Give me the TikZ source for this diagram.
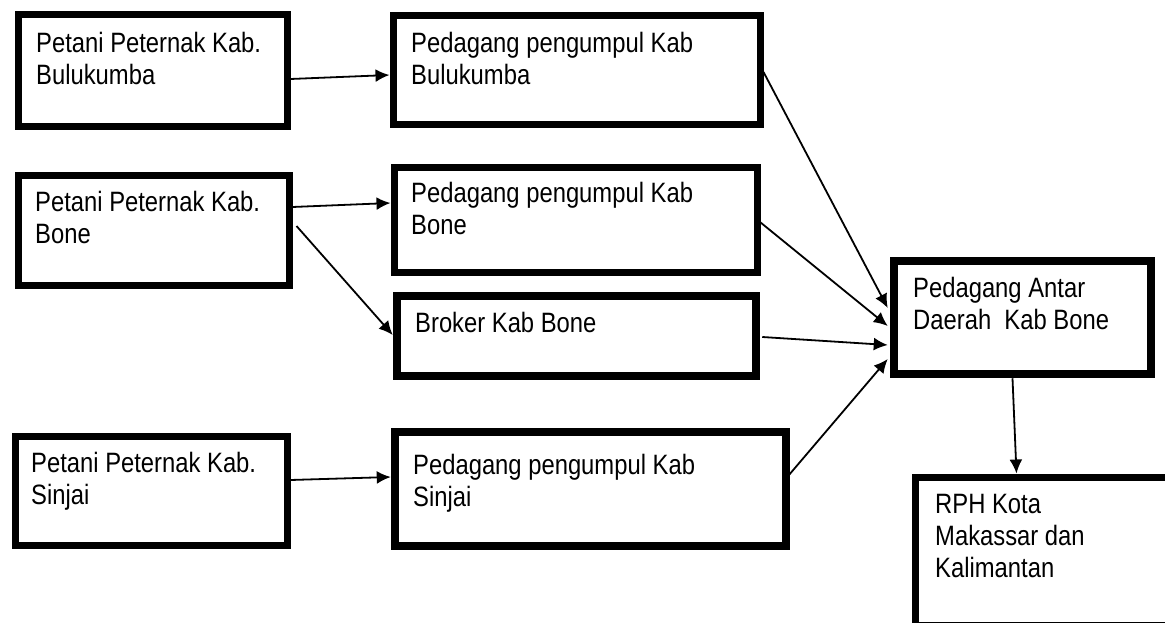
\documentclass[tikz,border=0pt]{standalone}
\usepackage{fontspec}
\setmainfont{Liberation Sans}[FakeStretch=0.85]
\usetikzlibrary{arrows.meta}
\begin{document}
\begin{tikzpicture}[x=1pt,y=-1pt,
  box/.style={draw=black, line width=7pt, inner sep=0pt, fill=white},
  thickbox/.style={box, line width=8.5pt},
  lbl/.style={anchor=north west, inner sep=0pt, align=left, font=\fontsize{28}{32}\selectfont},
  arr/.style={draw=black, line width=1.8pt, -{Latex[length=14pt,width=13pt]}}]
\useasboundingbox (0,0) rectangle (1165,623);
\fill[white] (0,0) rectangle (1165,623);
% boxes
\node[box, minimum width=269pt, minimum height=112pt] (b1) at (152.5,71) {};
\node[box, minimum width=367pt, minimum height=109pt] (b2) at (576.5,70.5) {};
\node[box, minimum width=271pt, minimum height=109pt] (b3) at (153.5,230.5) {};
\node[box, minimum width=363pt, minimum height=104pt] (b4) at (575.5,220) {};
\node[thickbox, minimum width=359pt, minimum height=80pt] (b5) at (576.5,336) {};
\node[thickbox, minimum width=257pt, minimum height=113pt] (b6) at (1022.5,317.5) {};
\node[box, minimum width=272pt, minimum height=109pt] (b7) at (151,490.5) {};
\node[thickbox, minimum width=391pt, minimum height=114pt] (b8) at (590.5,489) {};
\node[box, minimum width=265pt, minimum height=148.5pt] (b9) at (1047.5,551.25) {};
% texts
\node[lbl] (t1) at (36,32) {Petani Peternak Kab.\\Bulukumba};
\node[lbl] (t2) at (411,32) {Pedagang pengumpul Kab\\Bulukumba};
\node[lbl] (t3) at (35,191) {Petani Peternak Kab.\\Bone};
\node[lbl] (t4) at (411,182) {Pedagang pengumpul Kab\\Bone};
\node[lbl] (t5) at (415,312) {Broker Kab Bone};
\node[lbl] (t6) at (913,277) {Pedagang Antar\\Daerah\ \ Kab Bone};
\node[lbl] (t7) at (31,452) {Petani Peternak Kab.\\Sinjai};
\node[lbl] (t8) at (413,454) {Pedagang pengumpul Kab\\Sinjai};
\node[lbl] (t9) at (935,494) {RPH Kota\\Makassar dan\\Kalimantan};
% connectors
\draw[arr] ([yshift=-8pt]b1.east) -- ([yshift=-4.5pt]b2.west);
\draw[arr] ([yshift=23.5pt]b3.east) -- ([yshift=17pt]b4.west);
\draw[arr] ([xshift=4pt,yshift=4.5pt]b3.east) -- ([yshift=1pt]b5.west);
\draw[arr] ([yshift=10.5pt]b7.east) -- ([yshift=12pt]b8.west);
\draw[arr] ([yshift=-1.5pt]b2.east) -- ([xshift=-2pt,yshift=9.5pt]b6.west);
\draw[arr] ([xshift=-3pt]b4.east) -- ([xshift=-2pt,yshift=-8.5pt]b6.west);
\draw[arr] ([xshift=2pt,yshift=-1pt]b5.east) -- ([xshift=-2pt,yshift=-27.5pt]b6.west);
\draw[arr] ([xshift=-3pt,yshift=12pt]b8.east) -- ([xshift=-2pt,yshift=-41.5pt]b6.west);
\draw[arr] ([xshift=-10pt]b6.south) -- ([xshift=105pt]b9.north west);
\end{tikzpicture}
\end{document}
